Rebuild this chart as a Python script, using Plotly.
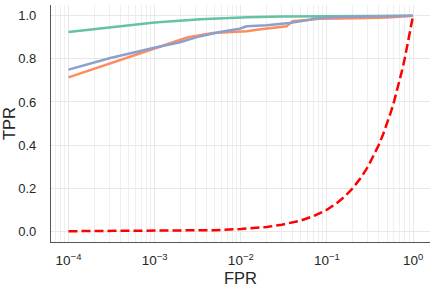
import plotly.graph_objects as go

# Data
green_fpr = [1e-4, 3.06e-4, 1e-3, 3.4e-3, 5.7e-3, 0.012, 0.03, 0.1, 1.0]
green_tpr = [0.925, 0.948, 0.969, 0.984, 0.989, 0.993, 0.997, 0.998, 1.0]

orange_fpr = [1e-4, 3.06e-4, 9.6e-4, 2.38e-3, 4.74e-3, 0.0117, 0.0153, 0.034, 0.040, 0.0628, 0.0817, 0.225, 0.5, 1.0]
orange_tpr = [0.714, 0.781, 0.846, 0.899, 0.920, 0.928, 0.935, 0.951, 0.975, 0.981, 0.986, 0.988, 0.992, 1.0]

purple_fpr = [1e-4, 3.06e-4, 9.6e-4, 1.97e-3, 3.1e-3, 5.71e-3, 9.7e-3, 0.0117, 0.02, 0.0368, 0.0628, 0.068, 0.14, 1.0]
purple_tpr = [0.750, 0.804, 0.850, 0.877, 0.901, 0.925, 0.940, 0.951, 0.956, 0.966, 0.981, 0.986, 0.994, 1.0]

chance_fpr = [1e-4, 1e-3, 5e-3, 0.01, 0.02, 0.03, 0.05, 0.07, 0.1, 0.13, 0.16, 0.2, 0.25, 0.3,
              0.35, 0.4, 0.45, 0.5, 0.55, 0.6, 0.65, 0.7, 0.75, 0.8, 0.85, 0.9, 0.95, 1.0]
chance_tpr = list(chance_fpr)

x_tickvals = [1e-4, 1e-3, 1e-2, 1e-1, 1e0]
x_ticktext = ["10<sup>−4</sup>", "10<sup>−3</sup>", "10<sup>−2</sup>", "10<sup>−1</sup>", "10<sup>0</sup>"]
y_tickvals = [0.0, 0.2, 0.4, 0.6, 0.8, 1.0]
y_ticktext = ["0.0", "0.2", "0.4", "0.6", "0.8", "1.0"]

minor_x = []
for e in range(-5, 1):
    for m in range(2, 10):
        v = m * 10.0 ** e
        if 6e-5 < v < 1.7:
            minor_x.append(v)

fig = go.Figure()
fig.add_trace(go.Scatter(x=green_fpr, y=green_tpr, mode="lines",
                         line=dict(color="#66c2a5", width=2.5)))
fig.add_trace(go.Scatter(x=orange_fpr, y=orange_tpr, mode="lines",
                         line=dict(color="#fc8d62", width=2.5)))
fig.add_trace(go.Scatter(x=purple_fpr, y=purple_tpr, mode="lines",
                         line=dict(color="#8da0cb", width=2.5)))
fig.add_trace(go.Scatter(x=chance_fpr, y=chance_tpr, mode="lines",
                         line=dict(color="red", width=2.5, dash="9px,4px")))

font = "Liberation Sans"
fig.update_layout(
    width=438, height=293,
    margin=dict(l=51, r=8, t=5, b=51),
    paper_bgcolor="white", plot_bgcolor="white",
    showlegend=False,
    font=dict(family=font, size=13, color="#262626"),
    xaxis=dict(
        type="log", range=[-4.203, 0.197],
        tickvals=x_tickvals, ticktext=x_ticktext,
        showgrid=True, gridcolor="#e8e8e8", gridwidth=0.8,
        minor=dict(tickvals=minor_x, showgrid=True, gridcolor="#efefef", gridwidth=0.6),
        showline=True, linecolor="#555555", linewidth=1.3,
        ticks="outside", ticklen=6, tickcolor="rgba(0,0,0,0)",
        zeroline=False, automargin=False,
        tickfont=dict(family=font, size=13.5, color="#262626"),
        title=dict(text="FPR", font=dict(family=font, size=16.5, color="#262626"), standoff=5),
    ),
    yaxis=dict(
        range=[-0.05, 1.05],
        tickvals=y_tickvals, ticktext=y_ticktext,
        showgrid=True, gridcolor="#e8e8e8", gridwidth=0.8,
        showline=True, linecolor="#555555", linewidth=1.3,
        ticks="outside", ticklen=11, tickcolor="rgba(0,0,0,0)",
        zeroline=False, automargin=False,
        tickfont=dict(family=font, size=13, color="#262626"),
        title=dict(text="TPR", font=dict(family=font, size=16.5, color="#262626"), standoff=3),
    ),
)

fig.write_html("out.html",
               config={"displayModeBar": False},
               post_script="document.body.style.margin='0px';document.body.style.overflow='hidden';")
